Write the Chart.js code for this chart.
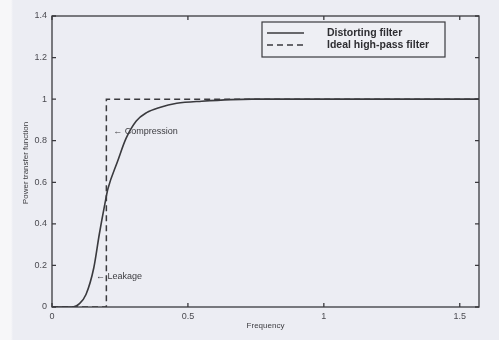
<!DOCTYPE html>
<html>
<head>
<meta charset="utf-8">
<script src="https://cdn.jsdelivr.net/npm/chart.js@4.4.1/dist/chart.umd.min.js"></script>
<style>
  html, body { margin: 0; padding: 0; }
  body {
    width: 499px; height: 340px; overflow: hidden;
    background: linear-gradient(to right, #f7f7f9 0px, #f7f7f9 11px, #ecedf3 13px, #ecedf3 100%);
  }
  #wrap { position: relative; width: 499px; height: 340px; }
</style>
</head>
<body>
<div id="wrap"><canvas id="c" width="499" height="340"></canvas></div>
<script>
// Frequency axis runs from 0 to pi/2
const xMax = Math.PI / 2;

// Distorting filter: power transfer function vs frequency
const distortFreq = [0, 0.077, 0.10, 0.125, 0.154, 0.174, 0.195, 0.206, 0.241, 0.272, 0.31, 0.348, 0.396, 0.459, 0.551, 0.735, 1.0, 1.25, xMax];
const distortGain = [0, 0, 0.015, 0.06, 0.19, 0.35, 0.50, 0.57, 0.70, 0.81, 0.895, 0.935, 0.96, 0.98, 0.99, 1.0, 1.0, 1.0, 1.0];

// Ideal high-pass filter with cutoff at 0.2
const idealFreq = [0, 0.2, 0.2, xMax];
const idealGain = [0, 0, 1, 1];

// Tick values and labels
const xTickValues = [0, 0.5, 1, 1.5];
const xTickLabels = ['0', '0.5', '1', '1.5'];
const yTickValues = [0, 0.2, 0.4, 0.6, 0.8, 1, 1.2, 1.4];
const yTickLabels = ['0', '0.2', '0.4', '0.6', '0.8', '1', '1.2', '1.4'];

const seriesNames = ['Distorting filter', 'Ideal high-pass filter'];
const xTitle = 'Frequency';
const yTitle = 'Power transfer function';

// Text annotations: [label, x, y]
const notes = [
  ['\u2190 Compression', 0.225, 0.845],
  ['\u2190 Leakage', 0.162, 0.145]
];

const ink = '#3a3a3e';
const FONT = '"Liberation Sans", Arial, sans-serif';

const toPts = (xs, ys) => xs.map((x, i) => ({ x: x, y: ys[i] }));

// Box frame, inward ticks, titles, notes and legend
const matlabFrame = {
  id: 'matlabFrame',
  afterDatasetsDraw(chart) {
    const { ctx, chartArea: a, scales } = chart;
    const xs = scales.x, ys = scales.y;
    ctx.save();
    ctx.strokeStyle = ink;
    ctx.lineWidth = 1.3;
    ctx.strokeRect(a.left, a.top, a.right - a.left, a.bottom - a.top);
    const tl = 4;
    ctx.beginPath();
    xTickValues.forEach(v => {
      const px = xs.getPixelForValue(v);
      ctx.moveTo(px, a.bottom); ctx.lineTo(px, a.bottom - tl);
      ctx.moveTo(px, a.top); ctx.lineTo(px, a.top + tl);
    });
    yTickValues.forEach(v => {
      const py = ys.getPixelForValue(v);
      ctx.moveTo(a.left, py); ctx.lineTo(a.left + tl, py);
      ctx.moveTo(a.right, py); ctx.lineTo(a.right - tl, py);
    });
    ctx.stroke();

    // axis titles
    ctx.fillStyle = '#3c3c40';
    ctx.font = '8px ' + FONT;
    ctx.textAlign = 'center';
    ctx.textBaseline = 'middle';
    ctx.fillText(xTitle, (a.left + a.right) / 2, 326);
    ctx.save();
    ctx.translate(26, 163);
    ctx.rotate(-Math.PI / 2);
    ctx.fillText(yTitle, 0, 0);
    ctx.restore();

    // annotations
    ctx.font = '9px ' + FONT;
    ctx.textAlign = 'left';
    notes.forEach(([t, x, y]) => {
      ctx.fillText(t, xs.getPixelForValue(x), ys.getPixelForValue(y));
    });

    // legend box
    const lx = 262, ly = 22, lw = 183, lh = 35;
    ctx.fillStyle = '#eeeff4';
    ctx.fillRect(lx, ly, lw, lh);
    ctx.lineWidth = 1.2;
    ctx.strokeRect(lx, ly, lw, lh);
    chart.data.datasets.forEach((ds, i) => {
      const yy = ly + 11 + i * 12;
      ctx.beginPath();
      ctx.setLineDash(ds.borderDash || []);
      ctx.lineWidth = ds.borderWidth;
      ctx.strokeStyle = ds.borderColor;
      ctx.moveTo(lx + 5, yy); ctx.lineTo(lx + 42, yy);
      ctx.stroke();
      ctx.setLineDash([]);
      ctx.fillStyle = '#2e2e32';
      ctx.font = 'bold 10.5px ' + FONT;
      ctx.textBaseline = 'middle';
      ctx.fillText(ds.label, lx + 65, yy);
    });
    ctx.restore();
  }
};

new Chart(document.getElementById('c'), {
  type: 'line',
  data: {
    datasets: [
      {
        label: seriesNames[0],
        data: toPts(distortFreq, distortGain),
        borderColor: '#3a3a3e',
        borderWidth: 1.6,
        pointRadius: 0,
        fill: false,
        cubicInterpolationMode: 'monotone'
      },
      {
        label: seriesNames[1],
        data: toPts(idealFreq, idealGain),
        borderColor: '#3a3a3e',
        borderWidth: 1.5,
        borderDash: [6, 4],
        pointRadius: 0,
        fill: false,
        tension: 0
      }
    ]
  },
  options: {
    responsive: false,
    animation: false,
    layout: { padding: { left: 0, top: 16, right: 20, bottom: 0 } },
    plugins: { legend: { display: false }, tooltip: { enabled: false } },
    scales: {
      x: {
        type: 'linear',
        min: 0,
        max: xMax,
        afterBuildTicks: s => { s.ticks = xTickValues.map(v => ({ value: v })); },
        afterFit: s => { s.height = 33; },
        grid: { display: false, drawTicks: false },
        border: { display: false },
        ticks: {
          padding: 4,
          color: '#4a4a50',
          font: { family: FONT, size: 9 },
          maxRotation: 0,
          autoSkip: false,
          callback: (v) => xTickLabels[xTickValues.indexOf(v)]
        }
      },
      y: {
        type: 'linear',
        min: 0,
        max: 1.4,
        afterBuildTicks: s => { s.ticks = yTickValues.map(v => ({ value: v })); },
        afterFit: s => { s.width = 52; },
        grid: { display: false, drawTicks: false },
        border: { display: false },
        ticks: {
          padding: 5,
          color: '#4a4a50',
          font: { family: FONT, size: 9 },
          autoSkip: false,
          callback: (v) => yTickLabels[yTickValues.indexOf(v)]
        }
      }
    }
  },
  plugins: [matlabFrame]
});
</script>
</body>
</html>
